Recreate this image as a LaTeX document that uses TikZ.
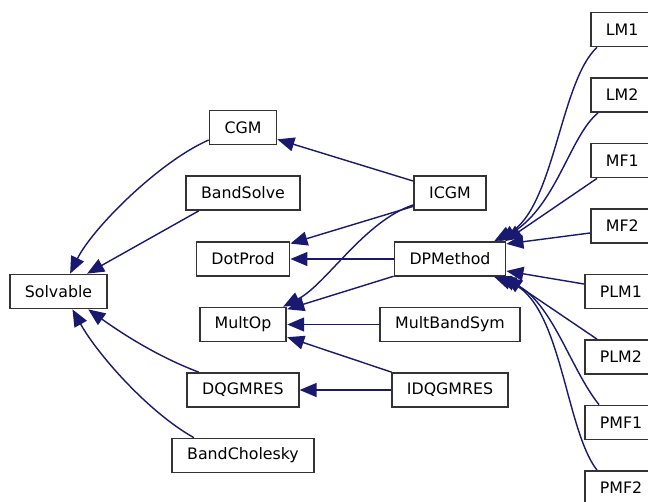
\documentclass[tikz,border=0pt]{standalone}
\usepackage{fontspec}
\setmainfont{DejaVu Sans}
\usetikzlibrary{arrows.meta,calc}
\definecolor{edgeblue}{HTML}{191970}

\begin{document}
\begin{tikzpicture}[x=0.02cm, y=-0.02cm,
  cls/.style={draw=black!80, line width=1pt, fill=white, minimum height=0.68cm,
    inner xsep=0.3cm, inner ysep=0pt, font=\fontsize{9}{11}\selectfont},
  inh/.style={draw=edgeblue, line width=0.8pt, -{Triangle[length=0.34cm,width=0.28cm]}}]
  \useasboundingbox (0,0) rectangle (648,501);
  \clip (0,0) rectangle (648,501);
  \fill[white] (0,0) rectangle (648,501);

  \node[cls] (Solvable) at (58.5,291.5) {Solvable};
  \node[cls] (CGM) at (243,127.5) {CGM};
  \node[cls] (BandSolve) at (243,193) {BandSolve};
  \node[cls] (DotProd) at (243,259) {DotProd};
  \node[cls] (MultOp) at (243,324.5) {MultOp};
  \node[cls] (DQGMRES) at (243,390) {DQGMRES};
  \node[cls] (BandCholesky) at (243,455.5) {BandCholesky};
  \node[cls] (ICGM) at (450,193) {ICGM};
  \node[cls] (DPMethod) at (450,259) {DPMethod};
  \node[cls] (MultBandSym) at (450,324.5) {MultBandSym};
  \node[cls] (IDQGMRES) at (450,390) {IDQGMRES};
  \node[cls, anchor=west] (LM1) at (590,29.5) {LM1};
  \node[cls, anchor=west] (LM2) at (590,95) {LM2};
  \node[cls, anchor=west] (MF1) at (590,160.5) {MF1};
  \node[cls, anchor=west] (MF2) at (590,226) {MF2};
  \node[cls, anchor=west] (PLM1) at (584,291.5) {PLM1};
  \node[cls, anchor=west] (PLM2) at (584,357) {PLM2};
  \node[cls, anchor=west] (PMF1) at (584,422.5) {PMF1};
  \node[cls, anchor=west] (PMF2) at (584,488) {PMF2};

  \draw[inh] (CGM.200) .. controls +(-50,22) and +(22,-45) .. (Solvable.57);
  \draw[inh] (BandSolve.202) -- (Solvable.32);
  \draw[inh] (DQGMRES.158) .. controls +(-40,-15) and +(35,25) .. (Solvable.-31);
  \draw[inh] (BandCholesky.160) .. controls +(-45,-25) and +(25,45) .. (Solvable.-52);

  \draw[inh] (ICGM.162) -- (CGM.-19);
  \draw[inh] (ICGM.200) -- (DotProd.18);
  \draw[inh] (ICGM.198) .. controls +(-49,16) and +(43,-22) .. (MultOp.24);
  \draw[inh] (DPMethod) -- (DotProd);
  \draw[inh] (DPMethod.197) -- (MultOp.19);
  \draw[inh] (MultBandSym) -- (MultOp);
  \draw[inh] (IDQGMRES.163) -- (MultOp.-16);
  \draw[inh] (IDQGMRES) -- (DQGMRES);

  \draw[inh] ($(LM1.south west)+(7,0)$) .. controls +(-37,34) and +(60,-32) .. (DPMethod.22);
  \draw[inh] ($(LM2.south west)+(8,0)$) .. controls +(-28,23) and +(58,-37) .. (DPMethod.20);
  \draw[inh] ($(MF1.south west)+(7,0)$) -- (DPMethod.18);
  \draw[inh] ($(MF2.west)+(0,7)$) -- (DPMethod.15);
  \draw[inh] ($(PLM1.west)+(0,-7.5)$) -- (DPMethod.-12);
  \draw[inh] ($(PLM2.north west)+(13,0)$) -- (DPMethod.-18);
  \draw[inh] ($(PMF1.north west)+(15,0)$) .. controls +(-29,-36) and +(53,24) .. (DPMethod.-20);
  \draw[inh] ($(PMF2.north west)+(13,0)$) .. controls +(-32,-41) and +(67,24) .. (DPMethod.-22);
\end{tikzpicture}
\end{document}
